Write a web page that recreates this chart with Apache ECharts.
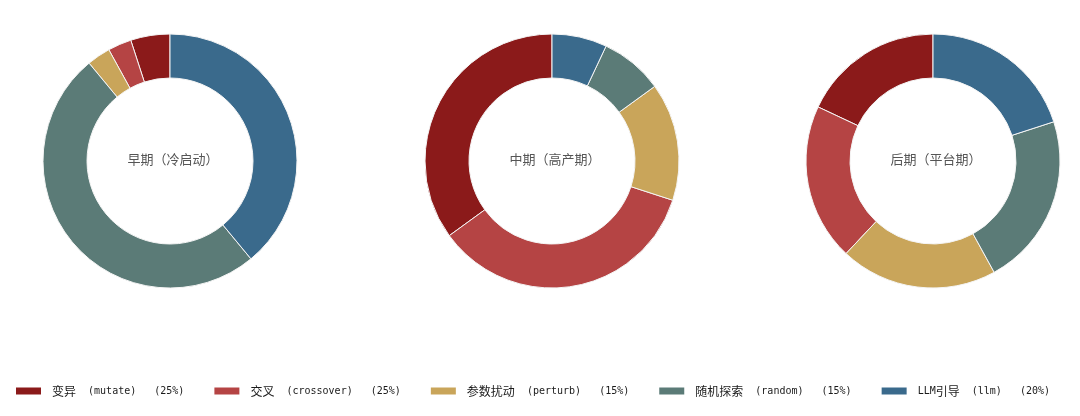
<!DOCTYPE html>
<html>
<head>
<meta charset="utf-8">
<script src="https://cdn.jsdelivr.net/npm/echarts@6/dist/echarts.min.js"></script>
<style>
html,body{margin:0;padding:0;background:#fff;}
#main{width:1080px;height:416px;}
</style>
</head>
<body>
<div id="main"></div>
<script>
const cnNames = ['变异', '交叉', '参数扰动', '随机探索', 'LLM引导'];
const enNames = ['mutate', 'crossover', 'perturb', 'random', 'llm'];
const legendShares = ['25%', '25%', '15%', '15%', '20%'];
const colors = ['#8b1a1a', '#b54444', '#c9a55a', '#5b7b77', '#3a6a8c'];
const stageNames = ['早期（冷启动）', '中期（高产期）', '后期（平台期）'];
const earlyValues = [5, 3, 3, 50, 39];
const midValues = [35, 35, 15, 8, 7];
const lateValues = [18, 20, 20, 22, 20];

const categories = cnNames.map((c, i) => c + '（' + enNames[i] + '）');
const stageValues = [earlyValues, midValues, lateValues];
const centersX = [170, 552, 933];
const centerY = 161;

const chart = echarts.init(document.getElementById('main'));
const series = stageValues.map((vals, si) => ({
  type: 'pie',
  name: stageNames[si],
  radius: [83, 127],
  center: [centersX[si], centerY],
  startAngle: 90,
  clockwise: false,
  label: { show: false },
  labelLine: { show: false },
  emphasis: { scale: false },
  itemStyle: { borderColor: '#f4f4f4', borderWidth: 1 },
  data: vals.map((v, i) => ({ name: categories[i], value: v }))
}));

function richWrap(s) {
  const parts = s.match(/[\u4e00-\u9fff]+|[^\u4e00-\u9fff]+/g) || [];
  return parts.map(p => (/[\u4e00-\u9fff]/.test(p) ? '{c|' : '{l|') + p + '}').join('');
}

chart.setOption({
  animation: false,
  color: colors,
  title: stageNames.map((n, si) => ({
    text: n,
    left: centersX[si] + 3,
    top: centerY - 8,
    padding: 0,
    textAlign: 'center',
    textStyle: { fontSize: 13, fontWeight: 'normal', color: '#555', fontFamily: "'Noto Sans CJK SC', sans-serif" }
  })),
  legend: {
    data: categories,
    left: 16,
    top: 385,
    padding: 0,
    itemWidth: 25,
    itemHeight: 7,
    itemGap: 30,
    icon: 'rect',
    itemStyle: { borderWidth: 0 },
    formatter: name => {
      const i = categories.indexOf(name);
      return richWrap(' ' + cnNames[i] + '  (' + enNames[i] + ')   (' + legendShares[i] + ')');
    },
    textStyle: {
      color: '#1a1a1a',
      rich: {
        c: { fontSize: 12, color: '#1a1a1a', fontFamily: "'Noto Sans CJK SC', sans-serif" },
        l: { fontSize: 10, color: '#1a1a1a', fontFamily: "'DejaVu Sans Mono', monospace" }
      }
    }
  },
  series: series
});
</script>
</body>
</html>
